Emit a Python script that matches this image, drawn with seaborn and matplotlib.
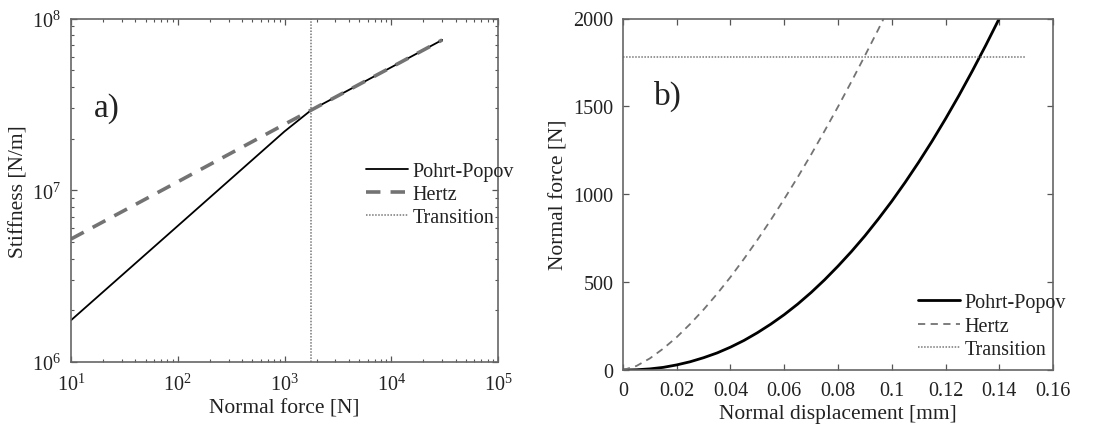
import matplotlib
matplotlib.use("Agg")
import matplotlib.pyplot as plt
import seaborn as sns
import pandas as pd
from matplotlib.ticker import LogLocator, FormatStrFormatter, MultipleLocator

# ---------------- data ----------------
# Panel a: stiffness vs normal force (log-log)
force_a = [10, 100, 1000, 1780, 10000, 30000]
pohrt_popov_k = [1.75e6, 6.2e6, 2.2e7, 2.93e7, 5.2e7, 7.5e7]
hertz_k = [5.2e6, 1.12e7, 2.42e7, 2.93e7, 5.2e7, 7.5e7]
transition_force = 1780

# Panel b: normal force vs normal displacement
disp_pp = [0, 0.005, 0.01, 0.015, 0.02, 0.025, 0.03, 0.035, 0.04, 0.045, 0.05,
           0.055, 0.06, 0.065, 0.07, 0.075, 0.08, 0.085, 0.09, 0.095, 0.1,
           0.105, 0.11, 0.115, 0.12, 0.125, 0.13, 0.135, 0.14]
force_pp = [0, 1.4, 6.3, 15, 29, 47, 70, 97, 130, 168, 212,
            261, 315, 375, 441, 513, 591, 674, 763, 859, 960,
            1068, 1182, 1302, 1429, 1562, 1702, 1848, 2000]
disp_hertz = [0, 0.005, 0.01, 0.015, 0.02, 0.025, 0.03, 0.035, 0.04, 0.045, 0.05,
              0.055, 0.06, 0.065, 0.07, 0.075, 0.08, 0.085, 0.09, 0.095, 0.097]
force_hertz = [0, 23, 66, 122, 187, 262, 344, 433, 529, 632, 740,
               854, 973, 1097, 1226, 1360, 1498, 1641, 1788, 1938, 2000]
transition_disp = [0, 0.15]
transition_level = 1780

labels = ["Pohrt-Popov", "Hertz", "Transition"]

# ---------------- style ----------------
sns.set_style("ticks")
plt.rcParams["font.family"] = ["Liberation Serif", "DejaVu Serif"]
plt.rcParams["mathtext.fontset"] = "custom"
plt.rcParams["mathtext.rm"] = "Liberation Serif"
plt.rcParams["mathtext.it"] = "Liberation Serif:italic"
plt.rcParams["text.color"] = "#222222"
plt.rcParams["axes.labelcolor"] = "#222222"
plt.rcParams["xtick.color"] = "#555555"
plt.rcParams["ytick.color"] = "#555555"
plt.rcParams["xtick.labelcolor"] = "#222222"
plt.rcParams["ytick.labelcolor"] = "#222222"

SPINE = "#666666"
TICKFS = 14.5
LABFS = 15.5
LEGFS = 14.5

fig = plt.figure(figsize=(10.97, 4.27), dpi=100)
W, H = 1097, 427

def add_ax(l, r, t, b):
    return fig.add_axes([l / W, 1 - b / H, (r - l) / W, (b - t) / H])

axa = add_ax(71, 498, 19.5, 363)
axb = add_ax(623, 1053, 19.5, 371)

# ---------------- panel a ----------------
axa.set_xscale("log")
axa.set_yscale("log")
sns.lineplot(x=force_a, y=pohrt_popov_k, ax=axa, color="black", lw=1.3,
             estimator=None, sort=False, label=labels[0])
sns.lineplot(x=force_a, y=hertz_k, ax=axa, color="#737373", lw=2.6,
             linestyle=(0, (4, 2.8)), estimator=None, sort=False, label=labels[1])
sns.lineplot(x=[transition_force, transition_force], y=[1e6, 1e8], ax=axa,
             color="#777777", lw=1.1, linestyle=(0, (1, 1)),
             estimator=None, sort=False, label=labels[2])
axa.set_xlim(10, 1e5)
axa.set_ylim(1e6, 1e8)
axa.xaxis.set_major_locator(LogLocator(base=10, numticks=10))
axa.yaxis.set_major_locator(LogLocator(base=10, numticks=10))
axa.xaxis.set_minor_locator(LogLocator(base=10, subs=range(2, 10), numticks=20))
axa.yaxis.set_minor_locator(LogLocator(base=10, subs=range(2, 10), numticks=20))
axa.set_xlabel("Normal force [N]", fontsize=LABFS, labelpad=3)
axa.set_ylabel("Stiffness [N/m]", fontsize=LABFS, labelpad=3)
axa.text(0.054, 0.742, "a)", transform=axa.transAxes, fontsize=24,
         va="center", ha="left")
axa.legend(loc="center left", bbox_to_anchor=(0.691, 0.487), frameon=False,
           fontsize=LEGFS, handlelength=2.1, handletextpad=0.2,
           labelspacing=0.2, borderpad=0, borderaxespad=0)

# ---------------- panel b ----------------
sns.lineplot(x=disp_pp, y=force_pp, ax=axb, color="black", lw=2.0,
             estimator=None, sort=False, label=labels[0])
sns.lineplot(x=disp_hertz, y=force_hertz, ax=axb, color="#737373", lw=1.3,
             linestyle=(0, (4, 3)), estimator=None, sort=False, label=labels[1])
sns.lineplot(x=transition_disp, y=[transition_level, transition_level], ax=axb,
             color="#777777", lw=1.1, linestyle=(0, (1, 1)),
             estimator=None, sort=False, label=labels[2])
axb.set_xlim(0, 0.16)
axb.set_ylim(0, 2000)
axb.xaxis.set_major_locator(MultipleLocator(0.02))
axb.yaxis.set_major_locator(MultipleLocator(500))
axb.xaxis.set_major_formatter(FormatStrFormatter("%g"))
axb.yaxis.set_major_formatter(FormatStrFormatter("%g"))
axb.set_xlabel("Normal displacement [mm]", fontsize=LABFS, labelpad=3)
axb.set_ylabel("Normal force [N]", fontsize=LABFS, labelpad=3)
axb.text(0.072, 0.78, "b)", transform=axb.transAxes, fontsize=24,
         va="center", ha="left")
axb.legend(loc="center left", bbox_to_anchor=(0.686, 0.125), frameon=False,
           fontsize=LEGFS, handlelength=2.1, handletextpad=0.2,
           labelspacing=0.2, borderpad=0, borderaxespad=0)

for ax in (axa, axb):
    for s in ax.spines.values():
        s.set_visible(True)
        s.set_color(SPINE)
        s.set_linewidth(1.2)
    ax.tick_params(which="both", direction="in", top=True, right=True,
                   labelsize=TICKFS)
    ax.tick_params(axis="x", which="both", pad=8)
    ax.tick_params(axis="y", which="both", pad=7)
    ax.tick_params(which="major", length=4, width=0.9)
    ax.tick_params(which="minor", length=2.5, width=0.8)

fig.savefig("out.png", dpi=100)
